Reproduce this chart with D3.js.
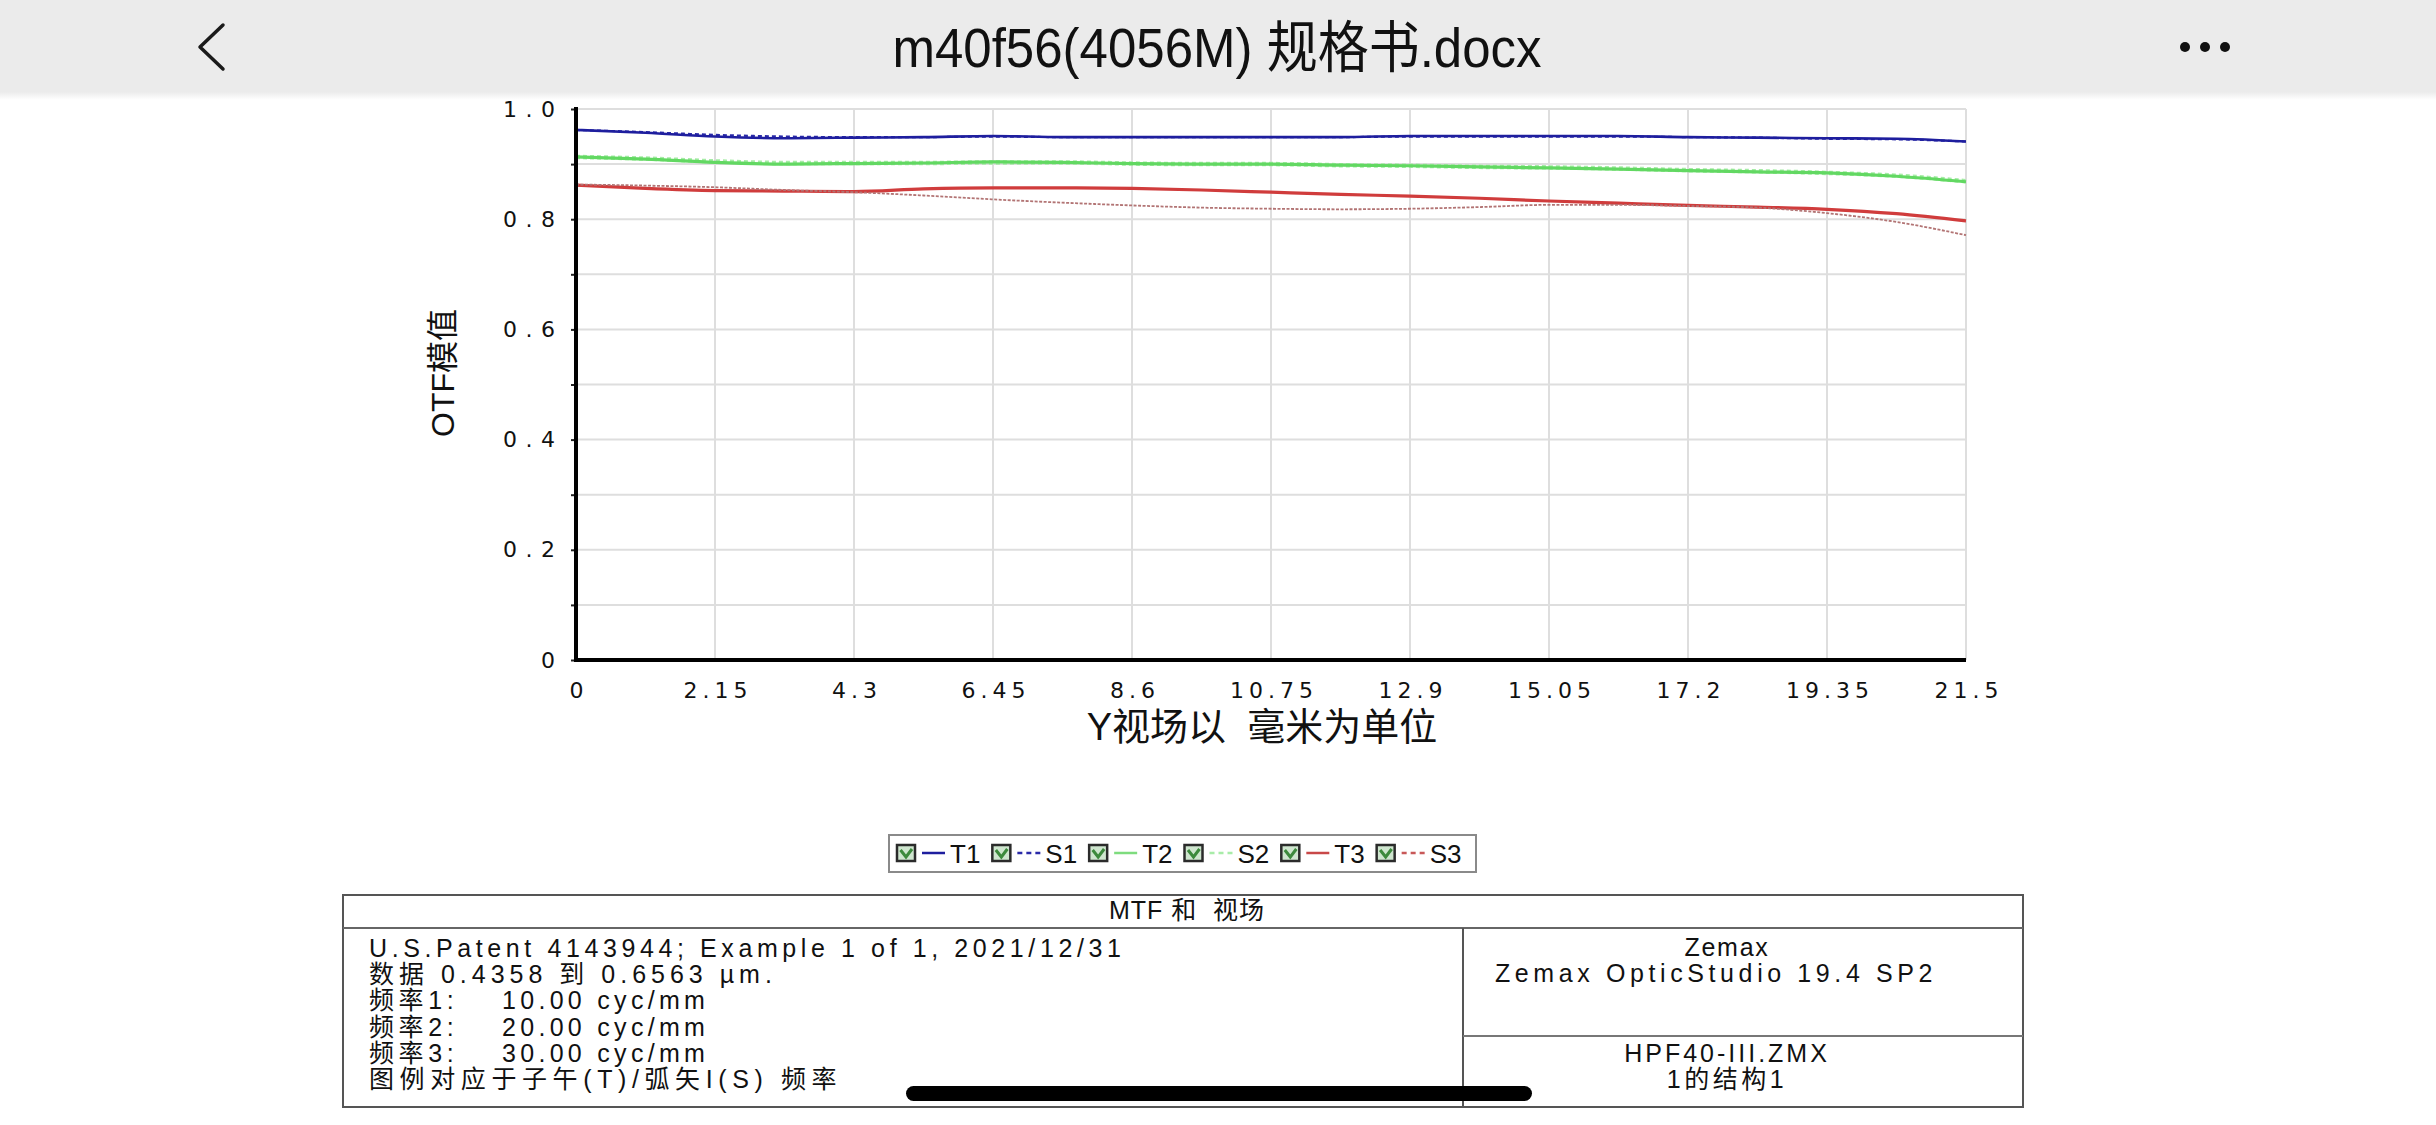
<!DOCTYPE html>
<html><head><meta charset="utf-8">
<script src="https://cdn.jsdelivr.net/npm/d3@7"></script>
<style>html,body{margin:0;padding:0;background:#fff;overflow:hidden}</style>
</head><body>
<svg id="c" width="2436" height="1125" xmlns="http://www.w3.org/2000/svg"></svg>
<script>
// ---------------- data ----------------
const fieldY = [0,1.075,2.15,3.225,4.3,5.375,6.45,7.525,8.6,9.675,10.75,11.825,12.9,13.975,15.05,16.125,17.2,18.275,19.35,20.425,21.5];
const T1 = [0.962,0.957,0.950,0.947,0.948,0.949,0.951,0.949,0.949,0.949,0.949,0.949,0.951,0.951,0.951,0.951,0.949,0.948,0.947,0.946,0.941];
const S1 = [0.962,0.958,0.953,0.950,0.949,0.949,0.950,0.949,0.949,0.949,0.949,0.949,0.950,0.950,0.950,0.950,0.949,0.948,0.946,0.945,0.941];
const T2 = [0.913,0.909,0.903,0.900,0.901,0.902,0.904,0.903,0.901,0.900,0.900,0.898,0.897,0.895,0.893,0.891,0.888,0.886,0.884,0.878,0.868];
const S2 = [0.913,0.910,0.905,0.902,0.902,0.902,0.903,0.903,0.901,0.900,0.900,0.898,0.897,0.895,0.894,0.892,0.889,0.887,0.884,0.879,0.869];
const T3 = [0.862,0.856,0.852,0.851,0.850,0.855,0.857,0.857,0.856,0.853,0.849,0.845,0.842,0.838,0.833,0.829,0.825,0.822,0.818,0.810,0.797];
const S3 = [0.863,0.861,0.858,0.853,0.849,0.843,0.836,0.830,0.825,0.821,0.819,0.818,0.819,0.822,0.826,0.826,0.824,0.821,0.811,0.795,0.771];
const seriesNames = ["T1","S1","T2","S2","T3","S3"];
const seriesValues = [T1,S1,T2,S2,T3,S3];
const xTicks = [0,2.15,4.3,6.45,8.6,10.75,12.9,15.05,17.2,19.35,21.5];
const xTickLabels = ["0","2.15","4.3","6.45","8.6","10.75","12.9","15.05","17.2","19.35","21.5"];
const yTicks = [0,0.1,0.2,0.3,0.4,0.5,0.6,0.7,0.8,0.9,1.0];
const yTickLabels = ["0","","0.2","","0.4","","0.6","","0.8","","1.0"];
const headerTitle = "m40f56(4056M) 规格书.docx";
const yTitle = "OTF模值";
const xTitle = "Y视场以  毫米为单位";
const tableTitle = "MTF 和  视场";
const infoLines = [
  ["U.S.Patent 4143944; Example 1 of 1, 2021/12/31", ""],
  ["数据 0.4358 到 0.6563 µm.", ""],
  ["频率1:", "10.00 cyc/mm"],
  ["频率2:", "20.00 cyc/mm"],
  ["频率3:", "30.00 cyc/mm"],
  ["图例对应于子午(T)/弧矢I(S) 频率", ""]
];
const rightTop = ["Zemax", "Zemax OpticStudio 19.4 SP2"];
const rightBottom = ["HPF40-III.ZMX", "1的结构1"];

// ---------------- styles ----------------
const styles = {
  T1:{color:"#1e1e9e", w:2.6, dash:null, lw:2.5, lc:"#1e1e9e"},
  S1:{color:"#2a2aa8", w:2.2, dash:"4,3", lw:2.5, lc:"#2a2aa8"},
  T2:{color:"#62d862", w:3.2, dash:null, lw:2.5, lc:"#7edc7e"},
  S2:{color:"#a6eca6", w:4.5, dash:"4,3", lw:2.5, lc:"#a8eca8"},
  T3:{color:"#d03c3c", w:3.2, dash:null, lw:2.5, lc:"#c84848"},
  S3:{color:"#b27474", w:1.8, dash:"3,1.5", lw:2.5, lc:"#c85858"}
};
const FONT = "'Liberation Sans', Arial, 'Noto Sans CJK SC', sans-serif";

const svg = d3.select("#c");

// ---------------- header ----------------
const defs = svg.append("defs");
const g1 = defs.append("linearGradient").attr("id","hs").attr("x1",0).attr("x2",0).attr("y1",0).attr("y2",1);
g1.append("stop").attr("offset","0%").attr("stop-color","#ebebeb");
g1.append("stop").attr("offset","100%").attr("stop-color","#ffffff");
svg.append("rect").attr("x",0).attr("y",0).attr("width",2436).attr("height",92).attr("fill","#ebebeb");
svg.append("rect").attr("x",0).attr("y",92).attr("width",2436).attr("height",8).attr("fill","url(#hs)");
svg.append("path").attr("d","M223,25 L200,47 L223,69").attr("fill","none").attr("stroke","#1a1a1a").attr("stroke-width",3.5).attr("stroke-linecap","round").attr("stroke-linejoin","round");
svg.append("text").attr("x",1217).attr("y",0).attr("text-anchor","middle")
  .attr("transform","translate(0,67) scale(1,1.1)")
  .attr("font-family",FONT).attr("font-size",51).attr("fill","#111").text(headerTitle);
[2185,2205,2225].forEach(cx=>svg.append("circle").attr("cx",cx).attr("cy",47).attr("r",5).attr("fill","#111"));

// ---------------- chart ----------------
const x = d3.scaleLinear().domain([0,21.5]).range([576,1966]);
const y = d3.scaleLinear().domain([0,1]).range([660,109]);

const grid = svg.append("g");
grid.selectAll("line.h").data(yTicks.filter(d=>d>0)).enter().append("line")
  .attr("x1",x(0)).attr("x2",x(21.5)).attr("y1",d=>y(d)).attr("y2",d=>y(d))
  .attr("stroke","#dedede").attr("stroke-width",2);
grid.selectAll("line.v").data(xTicks.filter(d=>d>0)).enter().append("line")
  .attr("y1",y(0)).attr("y2",y(1)).attr("x1",d=>x(d)).attr("x2",d=>x(d))
  .attr("stroke","#dedede").attr("stroke-width",2);

const line = d3.line().x((d,i)=>x(fieldY[i])).y(d=>y(d)).curve(d3.curveMonotoneX);
const drawOrder = ["S2","T2","S1","T1","T3","S3"];
drawOrder.forEach(name=>{
  const vals = seriesValues[seriesNames.indexOf(name)];
  const st = styles[name];
  svg.append("path").datum(vals).attr("d",line).attr("fill","none")
    .attr("stroke",st.color).attr("stroke-width",st.w)
    .attr("stroke-dasharray",st.dash).attr("stroke-linejoin","round");
});

// axes
const yLS = 8.5, xLS = 5;
const yAxis = svg.append("g").attr("transform",`translate(${x(0)},0)`)
  .call(d3.axisLeft(y).tickValues(yTicks).tickSize(5).tickFormat((d,i)=>yTickLabels[i]));
yAxis.select(".domain").remove();
yAxis.selectAll(".tick line").attr("stroke","#222").attr("stroke-width",2);
yAxis.selectAll("text").attr("x",-21+yLS).attr("font-family","'DejaVu Sans', sans-serif")
  .attr("font-size",22).attr("fill","#111").style("letter-spacing",yLS+"px");
const xAxis = svg.append("g").attr("transform",`translate(0,${y(0)})`)
  .call(d3.axisBottom(x).tickValues(xTicks).tickSize(0).tickFormat((d,i)=>xTickLabels[i]));
xAxis.select(".domain").remove();
xAxis.selectAll("text").attr("y",22).attr("x",xLS/2).attr("font-family","'DejaVu Sans', sans-serif")
  .attr("font-size",22).attr("fill","#111").style("letter-spacing",xLS+"px");
svg.append("line").attr("x1",x(0)).attr("x2",x(0)).attr("y1",y(1)-2).attr("y2",y(0)+2).attr("stroke","#000").attr("stroke-width",4);
svg.append("line").attr("x1",x(0)-2).attr("x2",x(21.5)).attr("y1",y(0)).attr("y2",y(0)).attr("stroke","#000").attr("stroke-width",4);

// titles
svg.append("text").attr("transform","translate(443,373) rotate(-90)").attr("text-anchor","middle")
  .attr("dominant-baseline","central").attr("font-family",FONT).attr("font-size",32).attr("fill","#111").text(yTitle);
svg.append("text").attr("x",1262).attr("y",727).attr("text-anchor","middle").attr("dominant-baseline","central")
  .attr("font-family",FONT).attr("font-size",38).attr("fill","#111").attr("xml:space","preserve").text(xTitle);

// ---------------- legend ----------------
const leg = svg.append("g");
leg.append("rect").attr("x",889).attr("y",835).attr("width",587).attr("height",37)
  .attr("fill","#fff").attr("stroke","#8a8a8a").attr("stroke-width",2);
let lx = 897; const ly = 853;
seriesNames.forEach(name=>{
  const st = styles[name];
  leg.append("rect").attr("x",lx).attr("y",ly-8).attr("width",18).attr("height",16)
    .attr("fill","#cfe6cf").attr("stroke","#2b2b2b").attr("stroke-width",2.5);
  leg.append("path").attr("d",`M${lx+3.5},${ly-3} L${lx+9},${ly+4} L${lx+15},${ly-4}`)
    .attr("fill","none").attr("stroke","#3d8a3d").attr("stroke-width",3);
  lx += 25;
  leg.append("line").attr("x1",lx).attr("x2",lx+23).attr("y1",ly).attr("y2",ly)
    .attr("stroke",st.lc).attr("stroke-width",st.lw).attr("stroke-dasharray",st.dash?"5,4":null);
  lx += 28;
  const t = leg.append("text").attr("x",lx).attr("y",ly+9.5).attr("font-family",FONT)
    .attr("font-size",26).attr("fill","#111").text(name);
  lx += t.node().getComputedTextLength() + 12;
});

// ---------------- info table ----------------
const tb = svg.append("g");
tb.append("rect").attr("x",343).attr("y",895).attr("width",1680).attr("height",212)
  .attr("fill","none").attr("stroke","#555").attr("stroke-width",2);
tb.append("line").attr("x1",343).attr("x2",2023).attr("y1",928).attr("y2",928).attr("stroke","#666").attr("stroke-width",2);
tb.append("line").attr("x1",1463).attr("x2",1463).attr("y1",928).attr("y2",1107).attr("stroke","#555").attr("stroke-width",2);
tb.append("line").attr("x1",1463).attr("x2",2023).attr("y1",1036).attr("y2",1036).attr("stroke","#777").attr("stroke-width",2);
tb.append("text").attr("x",1187).attr("y",919).attr("text-anchor","middle").attr("font-family",FONT)
  .attr("font-size",25).attr("fill","#111").style("letter-spacing","1px").attr("xml:space","preserve").text(tableTitle);
const lineLS = [4.6, 5, 4.6, 4.6, 4.6, 5.6];
infoLines.forEach((ln,i)=>{
  const by = 957 + i*26.2;
  tb.append("text").attr("x",369).attr("y",by).attr("font-family",FONT).attr("font-size",25)
    .attr("fill","#111").style("letter-spacing",lineLS[i]+"px").text(ln[0]);
  if (ln[1]) tb.append("text").attr("x",502).attr("y",by).attr("font-family",FONT).attr("font-size",25)
    .attr("fill","#111").style("letter-spacing","4.3px").text(ln[1]);
});
const rtX = [1727,1716], rtLS = ["1.7px","4.6px"];
rightTop.forEach((s,i)=>tb.append("text").attr("x",rtX[i]).attr("y",956+i*26).attr("text-anchor","middle")
  .attr("font-family",FONT).attr("font-size",25).attr("fill","#111").style("letter-spacing",rtLS[i]).text(s));
const rbLS = ["3px","3.5px"];
rightBottom.forEach((s,i)=>tb.append("text").attr("x",1727).attr("y",1062+i*26).attr("text-anchor","middle")
  .attr("font-family",FONT).attr("font-size",25).attr("fill","#111").style("letter-spacing",rbLS[i]).text(s));

// home indicator
svg.append("rect").attr("x",906).attr("y",1086).attr("width",626).attr("height",15).attr("rx",7.5).attr("fill","#000");
</script>
</body></html>
